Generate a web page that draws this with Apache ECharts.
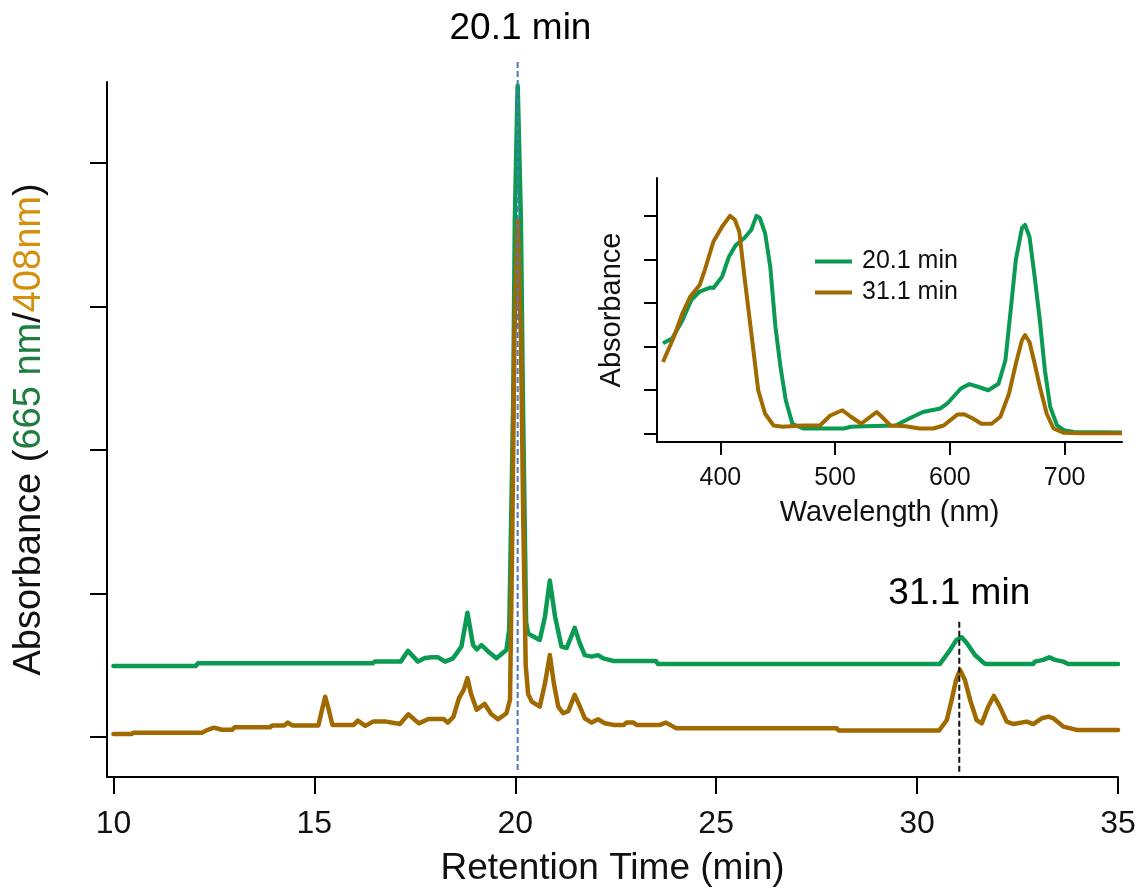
<!DOCTYPE html>
<html><head><meta charset="utf-8">
<script src="https://cdn.jsdelivr.net/npm/echarts@6/dist/echarts.min.js"></script>
<style>html,body{margin:0;padding:0;background:#fff}#c{width:1140px;height:888px}</style>
</head><body><div id="c"></div>
<script>
// ---- data ----
const retentionTicks = [10, 15, 20, 25, 30, 35];
const absTicks = [0, 1, 2, 3, 4];
const wavelengthTicks = [400, 500, 600, 700];
const spectrumTicks = [0, 1, 2, 3, 4, 5];

// chromatogram at 665 nm (green), [time min, absorbance a.u.]
const trace665 = [[10.0,0.495],[12.05,0.495],[12.1,0.513],[16.45,0.513],[16.5,0.525],[17.15,0.525],[17.33,0.6],[17.58,0.525],[17.75,0.55],[17.92,0.555],[18.08,0.555],[18.25,0.525],[18.45,0.548],[18.66,0.63],[18.81,0.866],[18.95,0.64],[19.04,0.61],[19.16,0.64],[19.35,0.59],[19.53,0.548],[19.78,0.606],[19.85,0.75],[19.95,2.35],[19.99,3.6],[20.06,4.54],[20.14,3.6],[20.19,2.35],[20.27,0.8],[20.32,0.72],[20.45,0.7],[20.61,0.676],[20.74,0.84],[20.86,1.09],[20.99,0.84],[21.15,0.63],[21.28,0.62],[21.48,0.76],[21.61,0.65],[21.73,0.57],[21.9,0.56],[22.06,0.57],[22.19,0.548],[22.44,0.53],[23.5,0.53],[23.55,0.509],[30.57,0.509],[30.82,0.606],[30.98,0.676],[31.11,0.695],[31.24,0.653],[31.44,0.571],[31.65,0.518],[31.7,0.509],[32.89,0.509],[32.93,0.525],[33.14,0.537],[33.29,0.555],[33.43,0.537],[33.64,0.525],[33.76,0.509],[35.0,0.509]];

// chromatogram at 408 nm (orange)
const trace408 = [[10.0,0.02],[10.45,0.02],[10.5,0.03],[12.2,0.03],[12.35,0.05],[12.5,0.065],[12.7,0.05],[12.95,0.05],[13.02,0.068],[13.9,0.068],[13.95,0.08],[14.25,0.08],[14.34,0.1],[14.45,0.08],[15.1,0.08],[15.2,0.2],[15.27,0.28],[15.35,0.2],[15.45,0.084],[15.98,0.084],[16.08,0.114],[16.27,0.077],[16.46,0.107],[16.79,0.107],[17.13,0.09],[17.34,0.158],[17.6,0.095],[17.84,0.125],[18.22,0.125],[18.32,0.1],[18.46,0.14],[18.6,0.27],[18.72,0.33],[18.81,0.41],[18.9,0.3],[19.04,0.19],[19.24,0.23],[19.4,0.16],[19.57,0.123],[19.78,0.165],[19.87,0.26],[19.93,1.5],[19.98,2.8],[20.06,3.6],[20.14,2.8],[20.2,1.5],[20.26,0.5],[20.32,0.3],[20.41,0.246],[20.61,0.211],[20.74,0.374],[20.86,0.571],[20.96,0.374],[21.07,0.211],[21.19,0.165],[21.32,0.18],[21.48,0.293],[21.61,0.211],[21.73,0.13],[21.9,0.1],[22.06,0.123],[22.23,0.095],[22.44,0.084],[22.7,0.084],[22.77,0.1],[22.94,0.1],[23.02,0.084],[23.6,0.084],[23.75,0.1],[24.01,0.06],[28.0,0.06],[28.05,0.045],[30.55,0.045],[30.74,0.118],[30.86,0.258],[30.97,0.397],[31.07,0.467],[31.19,0.397],[31.32,0.258],[31.48,0.118],[31.61,0.095],[31.77,0.211],[31.91,0.286],[32.06,0.211],[32.23,0.107],[32.4,0.09],[32.73,0.107],[32.89,0.09],[33.1,0.13],[33.27,0.142],[33.39,0.13],[33.64,0.072],[33.97,0.049],[35.0,0.049]];

// inset spectra, [wavelength nm, absorbance a.u.]
const spectrum20 = [[350,2.07],[358,2.18],[367,2.6],[374.6,3.06],[382,3.26],[391,3.35],[394,3.34],[401.5,3.6],[407.5,4.06],[413.5,4.33],[421,4.49],[427,4.68],[431.5,5.0],[434.4,4.95],[439,4.6],[443.5,3.83],[448,2.45],[452.4,1.53],[457,0.76],[462.8,0.22],[472,0.11],[507.8,0.11],[513.8,0.15],[525.8,0.16],[552.6,0.18],[564.6,0.34],[576.6,0.49],[591.6,0.57],[597.6,0.68],[609.6,1.03],[617,1.13],[624.5,1.07],[633.5,0.99],[642.4,1.14],[648.4,1.68],[653,2.83],[657.5,3.99],[662.8,4.72],[665.5,4.79],[669.4,4.52],[673.9,3.6],[678.4,2.6],[682.8,1.45],[687.4,0.61],[693.4,0.18],[699.4,0.07],[708.3,0.03],[750,0.02]];
const spectrum31 = [[350,1.64],[359.6,2.22],[367,2.76],[373.7,3.14],[382,3.41],[386.5,3.76],[394,4.41],[401.5,4.75],[408.4,5.0],[412.6,4.91],[416.5,4.64],[421,3.6],[427,2.3],[433,0.99],[439,0.45],[446.4,0.18],[454,0.15],[472,0.18],[486.8,0.18],[495.8,0.41],[506.3,0.53],[513.8,0.38],[522.7,0.22],[528.7,0.34],[536.2,0.49],[540.7,0.38],[548.2,0.18],[561.4,0.16],[573.6,0.11],[585.6,0.11],[594.6,0.18],[606.5,0.43],[612.5,0.44],[620,0.34],[627.5,0.22],[636.5,0.22],[644,0.38],[651.5,0.91],[657.5,1.6],[662.8,2.14],[665.5,2.26],[669.4,2.1],[673.9,1.6],[678.4,1.07],[684.4,0.45],[690.3,0.11],[699.4,0.01],[714.2,0],[750,0]];

// peak markers
const peakTimes = [20.06, 31.05];
const peakLabels = ['20.1 min', '31.1 min'];
const peakLineRanges = [[-0.23, 4.718], [-0.242, 0.803]];
const peakLabelPos = [[20.13, 4.934], [31.05, 0.997]];

// ---- chart ----
const FONT = "'Liberation Sans', Arial, Helvetica, sans-serif";
const GREEN = '#0a9a52';
const BROWN = '#a06a00';
const AX = { lineStyle: { color: '#000', width: 2 } };

const chart = echarts.init(document.getElementById('c'), null, { renderer: 'canvas' });

const vline = (i, color, dash) => ({
  type: 'line', xAxisIndex: 0, yAxisIndex: 0, clip: false, silent: true,
  symbol: 'none', z: 10,
  data: [[peakTimes[i], peakLineRanges[i][0]], [peakTimes[i], peakLineRanges[i][1]]],
  lineStyle: { color: color, width: 2, type: dash, opacity: 1 }
});

chart.setOption({
  animation: false,
  backgroundColor: '#fff',
  textStyle: { fontFamily: FONT },
  grid: [
    { left: 107, right: 22, top: 82, bottom: 111, outerBoundsMode: 'none', containLabel: false },
    { left: 657, right: 18, top: 178, bottom: 446, outerBoundsMode: 'none', containLabel: false }
  ],
  legend: {
    data: ['20.1 min', '31.1 min'],
    orient: 'vertical', left: 810, top: 243,
    icon: 'rect', itemWidth: 37, itemHeight: 4, itemGap: 4,
    textStyle: { fontFamily: FONT, fontSize: 25, color: '#111', lineHeight: 27, padding: [0, 0, 0, 5] }
  },
  xAxis: [
    {
      type: 'value', gridIndex: 0, min: 9.84, max: 35,
      name: 'Retention Time (min)', nameLocation: 'middle', nameGap: 73,
      nameMoveOverlap: false,
      nameTextStyle: { fontFamily: FONT, fontSize: 37, color: '#111' },
      axisLine: { show: true, onZero: false, ...AX },
      axisTick: { show: true, length: 17, lineStyle: { color: '#000', width: 2 }, customValues: retentionTicks },
      axisLabel: { fontFamily: FONT, fontSize: 32, color: '#111', margin: 31, customValues: retentionTicks },
      splitLine: { show: false }
    },
    {
      type: 'value', gridIndex: 1, min: 344.8, max: 750,
      name: 'Wavelength (nm)', nameLocation: 'middle', nameGap: 56,
      nameMoveOverlap: false,
      nameTextStyle: { fontFamily: FONT, fontSize: 29, color: '#111' },
      axisLine: { show: true, onZero: false, ...AX },
      axisTick: { show: true, length: 13, lineStyle: { color: '#000', width: 2 }, customValues: wavelengthTicks },
      axisLabel: { fontFamily: FONT, fontSize: 25, color: '#111', margin: 24, customValues: wavelengthTicks },
      splitLine: { show: false }
    }
  ],
  yAxis: [
    {
      type: 'value', gridIndex: 0, min: -0.279, max: 4.564,
      name: '{k|Absorbance (}{g|665 nm}{k|/}{o|408nm}{k|)}',
      nameLocation: 'middle', nameGap: 58, nameMoveOverlap: false,
      nameTextStyle: {
        fontFamily: FONT, fontSize: 38, color: '#111',
        rich: {
          k: { fontFamily: FONT, fontSize: 38, color: '#111' },
          g: { fontFamily: FONT, fontSize: 38, color: '#1f7d3e' },
          o: { fontFamily: FONT, fontSize: 38, color: '#d68f0a' }
        }
      },
      axisLine: { show: true, onZero: false, ...AX },
      axisTick: { show: true, length: 17, lineStyle: { color: '#000', width: 2 }, customValues: absTicks },
      axisLabel: { show: false },
      splitLine: { show: false }
    },
    {
      type: 'value', gridIndex: 1, min: -0.2, max: 5.87,
      name: 'Absorbance', nameLocation: 'middle', nameGap: 31, nameMoveOverlap: false,
      nameTextStyle: { fontFamily: FONT, fontSize: 29, color: '#111' },
      axisLine: { show: true, onZero: false, ...AX },
      axisTick: { show: true, length: 13, lineStyle: { color: '#000', width: 2 }, customValues: spectrumTicks },
      axisLabel: { show: false },
      splitLine: { show: false }
    }
  ],
  series: [
    {
      name: '665 nm', type: 'line', xAxisIndex: 0, yAxisIndex: 0, data: trace665,
      symbol: 'none', clip: false, z: 3,
      lineStyle: { color: GREEN, width: 4.5, join: 'round', cap: 'round' }, itemStyle: { color: GREEN }
    },
    {
      name: '408 nm', type: 'line', xAxisIndex: 0, yAxisIndex: 0, data: trace408,
      symbol: 'none', clip: false, z: 4,
      lineStyle: { color: BROWN, width: 4.5, join: 'round', cap: 'round' }, itemStyle: { color: BROWN }
    },
    vline(0, '#4a78c8', [6, 3]),
    vline(1, '#111', [6, 3]),
    {
      type: 'scatter', xAxisIndex: 0, yAxisIndex: 0, clip: false, silent: true,
      symbolSize: 0, z: 11,
      itemStyle: { opacity: 1, color: '#000' },
      data: peakLabelPos.map((p, i) => ({ value: p, name: peakLabels[i] })),
      label: { show: true, position: 'inside', formatter: '{b}', fontFamily: FONT, fontSize: 37,
               color: '#000', opacity: 1, textBorderWidth: 0 }
    },
    {
      name: '20.1 min', type: 'line', xAxisIndex: 1, yAxisIndex: 1, data: spectrum20,
      symbol: 'none', clip: false, z: 3,
      lineStyle: { color: GREEN, width: 4, join: 'round' }, itemStyle: { color: GREEN }
    },
    {
      name: '31.1 min', type: 'line', xAxisIndex: 1, yAxisIndex: 1, data: spectrum31,
      symbol: 'none', clip: false, z: 4,
      lineStyle: { color: BROWN, width: 4, join: 'round' }, itemStyle: { color: BROWN }
    }
  ]
});
</script>
</body></html>
